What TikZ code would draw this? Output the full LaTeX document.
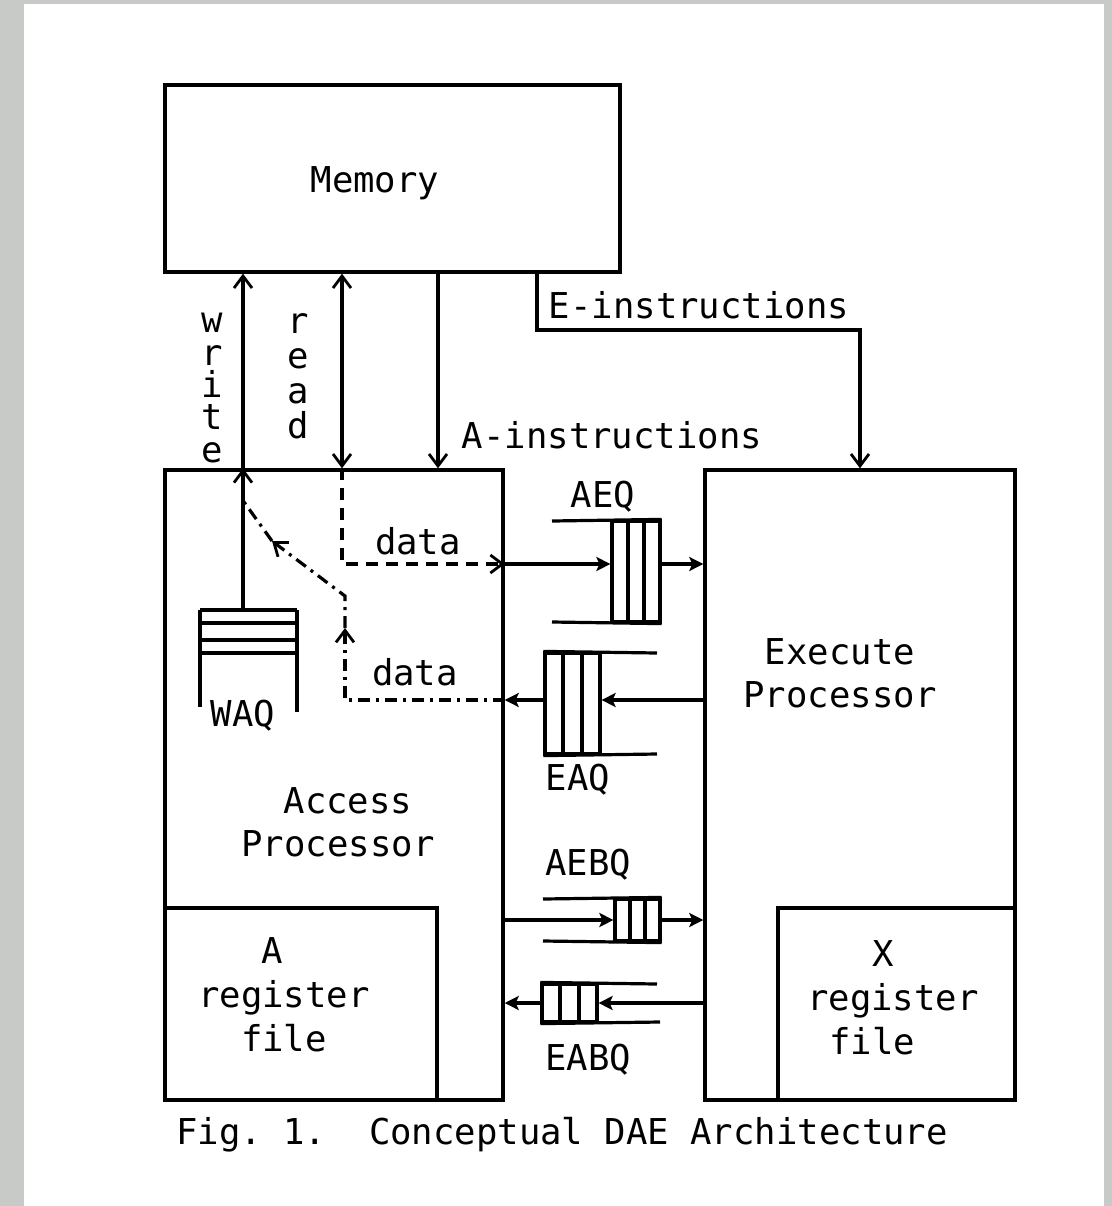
\documentclass[tikz,border=0pt]{standalone}
\usepackage{fontspec}
\setmonofont{DejaVu Sans Mono}
\usetikzlibrary{arrows.meta,fit,calc}
\definecolor{pagebg}{RGB}{200,202,200}
\begin{document}
\begin{tikzpicture}[x=0.5pt,y=-0.5pt,line width=1.6pt,
  lbl/.style={font=\fontsize{17.8}{21.5}\selectfont\ttfamily,inner sep=0pt,align=center},
  boxx/.style={draw,inner sep=0pt,line width=1.7pt},
  qbox/.style={draw,inner sep=0pt,line width=1.6pt},
  qline/.style={line width=1.6pt},
  barb/.style={-{Straight Barb[length=6pt,width=9pt,line width=1.4pt]}},
  barbboth/.style={{Straight Barb[length=6pt,width=9pt,line width=1.4pt]}-{Straight Barb[length=6pt,width=9pt,line width=1.4pt]}},
  tri/.style={-{Stealth[length=7pt,width=7pt,inset=1.5pt]}},
  dsh/.style={dash pattern=on 6pt off 4pt},
  dshdot/.style={dash pattern=on 6pt off 3pt on 1.5pt off 3pt},
]
\useasboundingbox (0,0) rectangle (1112,1206);
\fill[pagebg] (0,0) rectangle (1112,1206);
\fill[white] (24,4) rectangle (1104,1206);

% main boxes
\node[boxx,fit={(165,85) (620,272)}] (mem) {};
\node[boxx,fit={(165,470) (503,1100)}] (ap) {};
\node[boxx,fit={(705,470) (1015,1100)}] (ep) {};
\node[boxx,fit={(165,908) (437,1100)}] (arf) {};
\node[boxx,fit={(778,908) (1015,1100)}] (xrf) {};

% box texts
\node[lbl] (tmem) at (375,183) {Memory};
\node[lbl] (tap) at (338,822) {\hspace*{10pt}Access\\Processor};
\node[lbl] (tep) at (840,673) {Execute\\Processor};
\node[lbl,font=\fontsize{17.8}{22}\selectfont\ttfamily] (tarf) at (284,995) {A\hspace*{12pt}\\register\\file};
\node[lbl,font=\fontsize{17.8}{22}\selectfont\ttfamily] (txrf) at (893,998) {X\hspace*{10pt}\\register\\file\hspace*{21pt}};

% queues
\node[qbox,fit={(612,521) (660,622)}] (aeq) {};
\foreach \x in {628,644} \draw[qline] (\x,521) -- (\x,622);
\draw[qline] (552,521) -- (aeq.north east);
\draw[qline] (552,622) -- (aeq.south east);

\node[qbox,fit={(545,653) (600,754)}] (eaq) {};
\foreach \x in {563,582} \draw[qline] (\x,653) -- (\x,754);
\draw[qline] (eaq.north west) -- (657,653);
\draw[qline] (eaq.south west) -- (657,754);

\node[qbox,fit={(615,899) (660,941)}] (aebq) {};
\foreach \x in {630,645} \draw[qline] (\x,899) -- (\x,941);
\draw[qline] (543,899) -- (aebq.north east);
\draw[qline] (543,941) -- (aebq.south east);

\node[qbox,fit={(542,984) (597,1022)}] (eabq) {};
\foreach \x in {560,579} \draw[qline] (\x,984) -- (\x,1022);
\draw[qline] (eabq.north west) -- (657,984);
\draw[qline] (eabq.south west) -- (660,1022);

% WAQ
\node[inner sep=0pt,fit={(200,610) (297,653)}] (waq) {};
\foreach \y in {610,623,640,653} \draw[qline] (200,\y) -- (297,\y);
\draw[qline] (200,610) -- (200,707);
\draw[qline] (297,610) -- (297,712);

% queue labels
\node[lbl] (laeq) at (603,497) {AEQ};
\node[lbl] (leaq) at (578,780) {EAQ};
\node[lbl] (laebq) at (588,865) {AEBQ};
\node[lbl] (leabq) at (588,1060) {EABQ};
\node[lbl] (lwaq) at (243,716) {WAQ};

% write
\coordinate (wb) at (243,610);
\draw[barb] (wb) -- (wb |- ap.north);
\draw[barb] (wb |- ap.north) -- (wb |- mem.south);
\node[lbl,font=\fontsize{17.8}{16.2}\selectfont\ttfamily] (twrite) at (212,388) {w\\r\\i\\t\\e};

% read
\coordinate (rd) at (342,380);
\draw[barbboth] (rd |- mem.south) -- (rd |- ap.north);
\node[lbl,font=\fontsize{17.8}{17.5}\selectfont\ttfamily] (tread) at (298,376) {r\\e\\a\\d};

% A-instructions
\coordinate (ai) at (438,380);
\draw[barb] (ai |- mem.south) -- (ai |- ap.north);
\node[lbl] (tai) at (612,435) {A-instructions};

% E-instructions
\coordinate (ei) at (537,330);
\coordinate (ej) at (860,330);
\draw[barb] (ei |- mem.south) -- (ei) -- (ej) -- (ej |- ep.north);
\node[lbl] (tei) at (699,305) {E-instructions};

% upper data path
\coordinate (d1) at (342,564);
\draw[dsh,barb] (rd |- ap.north) -- (d1) -- (d1 -| ap.east);
\draw[tri] (d1 -| ap.east) -- (d1 -| aeq.west);
\draw[tri] (d1 -| aeq.east) -- (d1 -| ep.west);
\node[lbl] (tdata1) at (418,541) {data};

% lower data path
\coordinate (d2) at (345,700);
\coordinate (d3) at (345,628);
\coordinate (d4) at (345,596);
\coordinate (d5) at (272,541);
\coordinate (d6) at (244,502);
\draw[tri] (d2 -| ep.west) -- (d2 -| eaq.east);
\draw[tri] (d2 -| eaq.west) -- (d2 -| ap.east);
\draw[dshdot,barb] (d2 -| ap.east) -- (d2) -- (d3);
\draw[dshdot,barb] (d3) -- (d4) -- (d5);
\draw[dshdot] (d5) -- (d6);
\node[lbl] (tdata2) at (415,672) {data};

% AEBQ / EABQ connections
\draw[tri] (aebq.west -| ap.east) -- (aebq.west);
\draw[tri] (aebq.east) -- (aebq.east -| ep.west);
\draw[tri] (eabq.east -| ep.west) -- (eabq.east);
\draw[tri] (eabq.west) -- (eabq.west -| ap.east);

% caption
\node[lbl] (cap) at (562,1135) {Fig.\ 1.\ \ Conceptual DAE Architecture};
\end{tikzpicture}
\end{document}
